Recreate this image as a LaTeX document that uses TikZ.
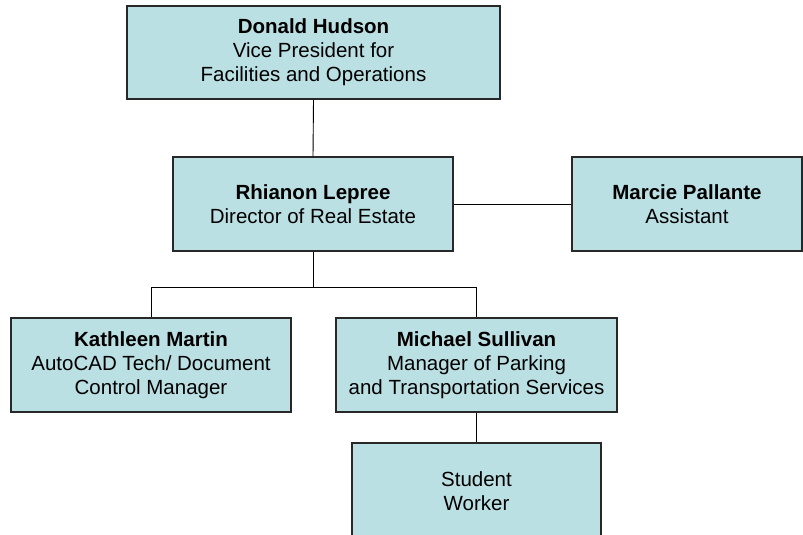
\documentclass[tikz,border=0pt]{standalone}
\usepackage{fontspec}
\setmainfont{Liberation Sans}
\definecolor{boxfill}{RGB}{187,224,227}
\definecolor{boxline}{RGB}{40,40,40}
\begin{document}
\begin{tikzpicture}[x=1pt,y=-1pt,
  orgbox/.style={draw=boxline, fill=boxfill, line width=1.1pt, inner sep=0pt,
    align=center, font=\fontsize{20.5}{24}\selectfont},
  link/.style={draw=black, line width=0.9pt}]
\clip (0,0) rectangle (803,535);
\fill[white] (0,0) rectangle (803,535);
\node[orgbox, minimum width=373pt, minimum height=93pt] (b1) at (313.5,52.5)
  {\textbf{Donald Hudson}\\Vice President for\\Facilities and Operations};
\node[orgbox, minimum width=280pt, minimum height=94pt] (b2) at (313,204)
  {\textbf{Rhianon Lepree}\\Director of Real Estate};
\node[orgbox, minimum width=230pt, minimum height=94pt] (b3) at (687,204)
  {\textbf{Marcie Pallante}\\Assistant};
\node[orgbox, minimum width=280pt, minimum height=94pt] (b4) at (151,365)
  {\textbf{Kathleen Martin}\\AutoCAD Tech/ Document\\Control Manager};
\node[orgbox, minimum width=281pt, minimum height=94pt] (b5) at (476.5,365)
  {\textbf{Michael Sullivan}\\Manager of Parking\\and Transportation Services};
\node[orgbox, minimum width=249pt, minimum height=96pt] (b6) at (476.5,491)
  {Student\\Worker};
\draw[link] (b1.south) -- (b2.north);
\draw[link] (b2.east) -- (b3.west);
\draw[link] (b2.south) -- ++(0,36) coordinate (j);
\draw[link] (b4.north) |- (j) -| (b5.north);
\draw[link] (b5.south) -- (b6.north);
\end{tikzpicture}
\end{document}
